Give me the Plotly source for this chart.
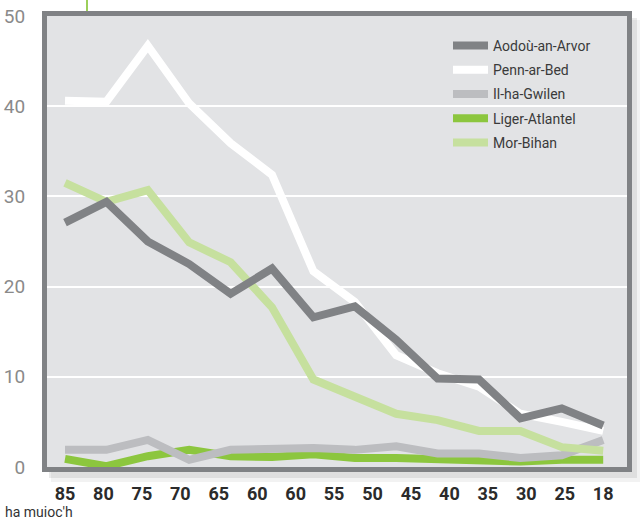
import numpy as np
import plotly.graph_objects as go

tick_labels = ["85", "80", "75", "70", "65", "60", "60", "55", "50", "45", "40", "35", "30", "25", "18"]

aodou = [27.1, 29.4, 25.0, 22.5, 19.2, 22.0, 16.6, 17.8, 14.1, 9.8, 9.7, 5.4, 6.5, 4.6]
penn = [40.6, 40.5, 46.7, 40.3, 35.9, 32.4, 21.7, 18.3, 12.4, 10.4, 8.9, 5.9, 5.0, 4.0]
ilha = [1.9, 1.9, 3.0, 0.8, 1.9, 2.0, 2.1, 1.9, 2.3, 1.5, 1.5, 1.0, 1.3, 3.0]
liger = [0.9, 0.1, 1.2, 1.9, 1.2, 1.1, 1.4, 1.0, 1.0, 0.9, 0.8, 0.6, 0.8, 0.8]
morbihan = [31.5, 29.4, 30.7, 24.9, 22.7, 17.7, 9.7, 7.8, 5.9, 5.2, 4.0, 4.0, 2.2, 1.8]

x = list(range(len(aodou)))

# drawing order differs from legend order
series = [
    ("Liger-Atlantel", liger, "#8cc63e", 4),
    ("Il-ha-Gwilen", ilha, "#bcbdc0", 3),
    ("Mor-Bihan", morbihan, "#c6e09e", 5),
    ("Penn-ar-Bed", penn, "#ffffff", 2),
    ("Aodoù-an-Arvor", aodou, "#808285", 1),
]

fig = go.Figure()
for name, vals, color, rank in series:
    fig.add_trace(go.Scatter(
        x=x, y=vals, name=name, mode="lines",
        line=dict(color=color, width=8),
        legendrank=rank, legendgroup=name,
    ))

# plot area size in px, used to place shapes / legend
W, H = 580.0, 451.0
shapes = [
    # soft shadow under the frame
    dict(type="rect", xref="paper", yref="paper", layer="below",
         x0=4 / W, x1=1 + 13 / W, y0=-15 / H, y1=1 - 4 / H,
         fillcolor="rgba(0,0,0,0.05)", line=dict(width=0)),
    dict(type="rect", xref="paper", yref="paper", layer="below",
         x0=2 / W, x1=1 + 10 / W, y0=-11 / H, y1=1 - 2 / H,
         fillcolor="rgba(0,0,0,0.08)", line=dict(width=0)),
    dict(type="rect", xref="paper", yref="paper", layer="below",
         x0=-5 / W, x1=1 + 5 / W, y0=-5 / H, y1=1 + 5 / H,
         fillcolor="#808285", line=dict(width=0)),
    # plot background
    dict(type="rect", xref="paper", yref="paper", layer="below",
         x0=0, x1=1, y0=0, y1=1,
         fillcolor="#e2e3e5", line=dict(width=0)),
    # green marker at top
    dict(type="line", xref="paper", yref="paper", layer="above",
         x0=40 / W, x1=40 / W, y0=1 + 5 / H, y1=1 + 16 / H,
         line=dict(color="#9ccf5a", width=2)),
]

fig.update_layout(
    width=643, height=520,
    margin=dict(l=47, r=16, t=16, b=53, autoexpand=False),
    paper_bgcolor="white",
    plot_bgcolor="rgba(0,0,0,0)",
    font=dict(family="Roboto, DejaVu Sans", color="#333333"),
    showlegend=True,
    legend=dict(
        x=401 / W, y=1 - 14 / H, xanchor="left", yanchor="top",
        bgcolor="rgba(0,0,0,0)", borderwidth=0,
        font=dict(size=14, color="#3a3a3a"),
        itemwidth=35, traceorder="grouped", tracegroupgap=3,
    ),
    shapes=shapes,
    annotations=[dict(
        text="ha muioc'h", xref="paper", yref="paper",
        x=-44 / W, y=-45 / H, xanchor="left", yanchor="middle",
        showarrow=False, font=dict(size=14, color="#333333"),
    )],
)

fig.update_xaxes(
    range=[-0.435, 13.575],
    tickvals=np.linspace(0, len(aodou) - 1, len(tick_labels)),
    ticktext=tick_labels,
    showgrid=False, zeroline=False, automargin=False,
    showline=True, mirror=True, linecolor="#808285", linewidth=5,
    ticks="", ticklabelstandoff=6,
    tickfont=dict(size=18, color="#2b2b2b", weight="bold"),
)
fig.update_yaxes(
    range=[0, 50],
    tickvals=[0, 10, 20, 30, 40, 50],
    showgrid=True, gridcolor="white", gridwidth=1.5,
    zeroline=False, automargin=False,
    showline=True, mirror=True, linecolor="#808285", linewidth=5,
    ticks="", ticklabelstandoff=13,
    tickfont=dict(size=19, color="#8a8a8a"),
)

# drop the default body margin so the figure fills the window exactly
fig.write_html(
    "out.html",
    config={"displayModeBar": False},
    post_script="document.body.style.margin = '0';",
)
